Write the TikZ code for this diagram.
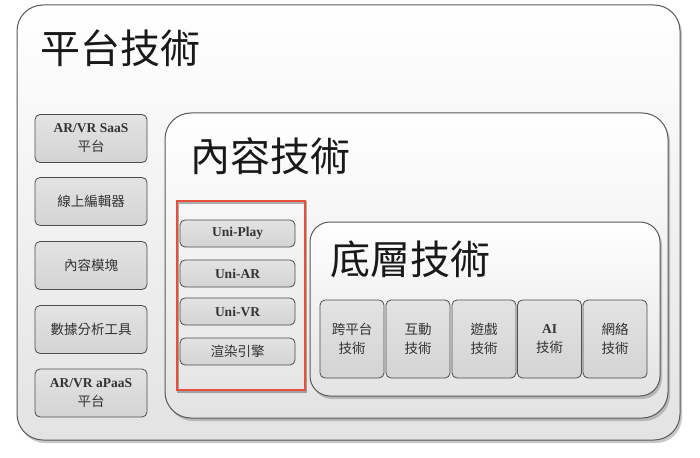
\documentclass[tikz,border=0pt]{standalone}
\usepackage{fontspec}
\setmainfont{Liberation Serif}
\newfontfamily\cjk{Noto Sans CJK TC}
\usetikzlibrary{shadows}
\definecolor{boxred}{RGB}{232,78,62}
\tikzset{%
	panel/.style={
		draw=black!65,
		line width=1pt,
		rounded corners=26pt,
		top color=white,
		bottom color=black!11,
		drop shadow={shadow xshift=2pt, shadow yshift=-3pt, opacity=0.45},
		inner sep=0pt
	},
	item/.style={
		draw=black!70,
		line width=0.8pt,
		rounded corners=5pt,
		top color=black!11,
		bottom color=black!17,
		align=center,
		inner sep=0pt,
		text=black!80,
		font=\bfseries\fontsize{13.5}{19}\selectfont
	},
	heading/.style={
		anchor=west,
		inner sep=0pt,
		text=black!90,
		font=\cjk\fontsize{40}{42}\selectfont
	},
}
\begin{document}
\begin{tikzpicture}[x=1pt, y=-1pt]
			\useasboundingbox (0,0) rectangle (700,457);
			
			% Draw the platform panel
			\node[panel, minimum width=663pt, minimum height=435pt] (platform) at (348.5,222.5) {};
			\node[heading] (platformtitle) at (40,48) {平台技術};
			
			% Draw the platform items
			\node[item, minimum width=112pt, minimum height=48pt] (saas) at (91,138.5) {AR/VR SaaS\\{\cjk\mdseries 平台}};
			\node[item, minimum width=112pt, minimum height=48pt] (editor) at (91,201.5) {\cjk\mdseries 線上編輯器};
			\node[item, minimum width=112pt, minimum height=48pt] (module) at (91,265.5) {\cjk\mdseries 內容模塊};
			\node[item, minimum width=112pt, minimum height=48pt] (analysis) at (91,329.5) {\cjk\mdseries 數據分析工具};
			\node[item, minimum width=112pt, minimum height=48pt] (apaas) at (91,393) {AR/VR aPaaS\\{\cjk\mdseries 平台}};
			
			% Draw the content panel
			\node[panel, minimum width=503pt, minimum height=305pt] (content) at (416.5,265.5) {};
			\node[heading] (contenttitle) at (190,156) {內容技術};
			
			% Draw the red frame
			\node[draw=boxred, line width=2.6pt, minimum width=128pt, minimum height=189pt, inner sep=0pt,
				drop shadow={shadow xshift=1pt, shadow yshift=-1.5pt, opacity=0.3, fill=none, draw=black, line width=2.6pt}] (frame) at (241,295.5) {};
			\node[item, minimum width=115pt, minimum height=27pt] (uniplay) at (237.5,233.5) {Uni-Play};
			\node[item, minimum width=115pt, minimum height=27pt] (uniar) at (237.5,273.5) {Uni-AR};
			\node[item, minimum width=115pt, minimum height=27pt] (univr) at (237.5,311.5) {Uni-VR};
			\node[item, minimum width=115pt, minimum height=27pt] (render) at (237.5,351.5) {\cjk\mdseries 渲染引擎};
			
			% Draw the base panel
			\node[panel, rounded corners=20pt, minimum width=350pt, minimum height=174pt] (base) at (485,309) {};
			\node[heading] (basetitle) at (330,259) {底層技術};
			
			% Draw the base items
			\node[item, minimum width=64pt, minimum height=78pt] (cross) at (352,339) {\cjk\mdseries 跨平台\\\cjk\mdseries 技術};
			\node[item, minimum width=64pt, minimum height=78pt] (interact) at (418,339) {\cjk\mdseries 互動\\\cjk\mdseries 技術};
			\node[item, minimum width=64pt, minimum height=78pt] (game) at (484,339) {\cjk\mdseries 遊戲\\\cjk\mdseries 技術};
			\node[item, minimum width=64pt, minimum height=78pt] (ai) at (549.5,339) {AI\\\cjk\mdseries 技術};
			\node[item, minimum width=64pt, minimum height=78pt] (network) at (615,339) {\cjk\mdseries 網絡\\\cjk\mdseries 技術};
			
		\end{tikzpicture}
\end{document}
